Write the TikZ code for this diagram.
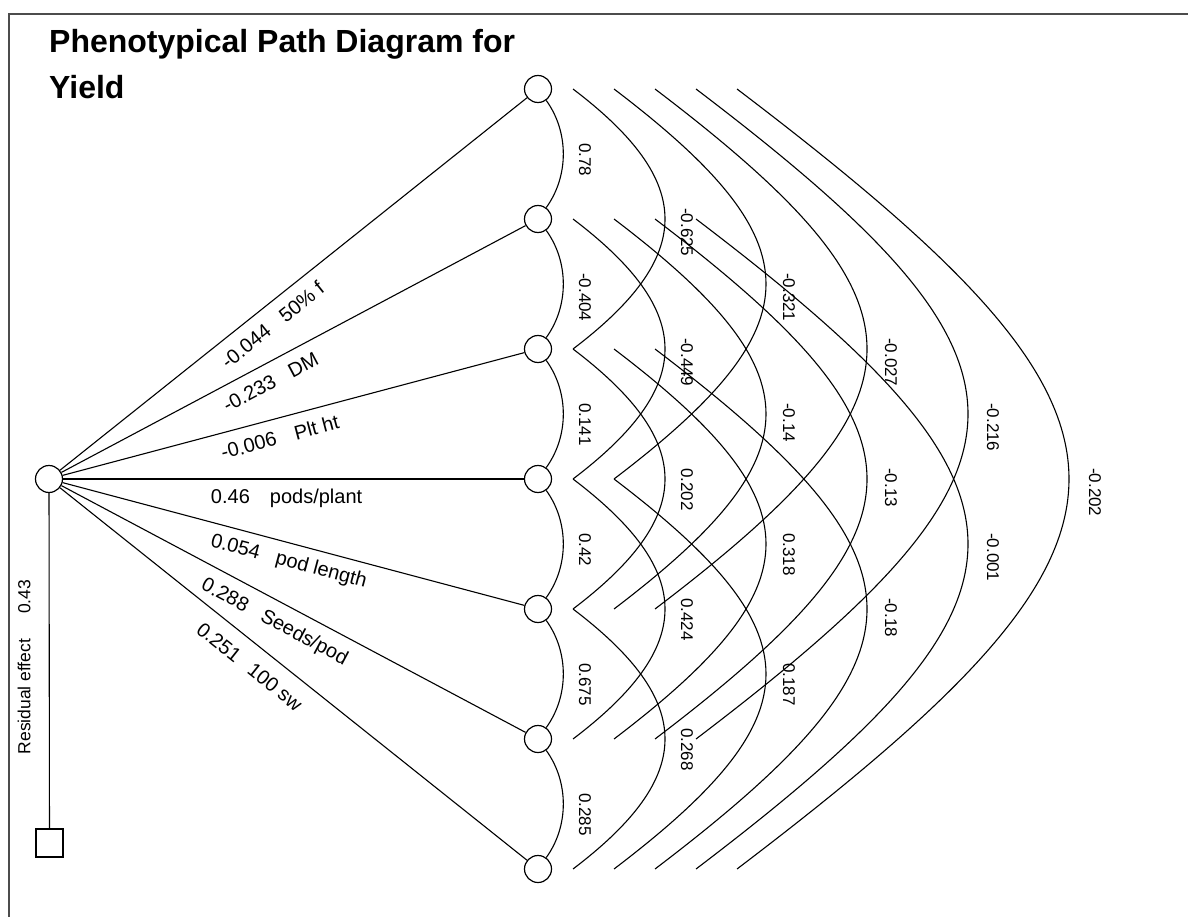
\documentclass[tikz,border=0pt]{standalone}
\usepackage{fontspec}
\setmainfont{Liberation Sans}
\usetikzlibrary{calc}
\tikzset{
    trait/.style={draw, circle, minimum size=27pt, inner sep=0pt, line width=1.2pt},
    residual/.style={draw, rectangle, minimum width=27pt, minimum height=28pt, inner sep=0pt, line width=1.5pt},
    link/.style={line width=1.1pt},
    frame/.style={line width=2pt, black!70},
    pathlbl/.style={sloped, below=#1, inner sep=0pt, font=\fontsize{20}{22}\selectfont},
    pathlbl/.default=11pt,
    corrlbl/.style={rotate=-90, anchor=west, inner sep=0pt, font=\fontsize{17}{19}\selectfont}
}
% correlation between trait #1 and trait #2, value #3
\newcommand{\pathcorr}[3] {
    \pgfmathtruncatemacro{\cgap}{#2-#1}
    \pgfmathsetmacro{\clx}{47+102*(\cgap-1)}
    \ifnum\cgap=1
        \draw[link] (r#1) .. controls ($(r#1)+(31,43)$) and ($(r#2)+(31,-43)$) .. (r#2);
    \else
        \pgfmathsetmacro{\cstart}{35+41*(\cgap-2)}
        \pgfmathsetmacro{\cbulge}{4/3*(92+60*(\cgap-2))}
        \pgfmathsetmacro{\cdrop}{0.76*\cbulge}
        \draw[link] ($(r#1)+(\cstart,0)$) .. controls ($(r#1)+(\cstart+\cbulge,\cdrop)$)
            and ($(r#2)+(\cstart+\cbulge,-\cdrop)$) .. ($(r#2)+(\cstart,0)$);
    \fi
    \node[corrlbl] (c#1#2) at ($(r#1)!0.5!(r#2)+(\clx,-11)$) {#3};
}
\begin{document}
\begin{tikzpicture}[x=1pt, y=-1pt]
    \useasboundingbox (0,0) rectangle (1188,917);
    \draw[frame] (9,917) -- (9,14) -- (1188,14);

    % Title
    \node[anchor=north west, align=left, inner sep=0pt, font=\bfseries\fontsize{32}{46}\selectfont] (title) at (49,29)
        {Phenotypical Path Diagram for\\Yield};

    % Yield and residual
    \node[trait] (yield) at (49,479) {};
    \node[residual] (res) at (49.5,843) {};
    \draw[link] (yield) -- (res);
    \node[rotate=90, inner sep=0pt, font=\fontsize{17.5}{20}\selectfont] (reslbl) at (24,667) {Residual effect\hspace{25pt}0.43};

    % Traits
    \node[trait] (r1) at (538,89) {};
    \node[trait] (r2) at (538,219) {};
    \node[trait] (r3) at (538,349) {};
    \node[trait] (r4) at (538,479) {};
    \node[trait] (r5) at (538,609) {};
    \node[trait] (r6) at (538,739) {};
    \node[trait] (r7) at (538,869) {};

    % Direct effects
    \draw[link] (yield) -- node[pathlbl, pos=0.43] {-0.044\hspace{17pt}50\% f} (r1);
    \draw[link] (yield) -- node[pathlbl, pos=0.432] {-0.233\hspace{17pt}DM} (r2);
    \draw[link] (yield) -- node[pathlbl, pos=0.46] {-0.006\hspace{19pt}Plt ht} (r3);
    \draw[link] (yield) -- node[pathlbl=9pt, pos=0.485] {0.46\hspace{20pt}pods/plant} (r4);
    \draw[link] (yield) -- node[pathlbl=9pt, pos=0.5] {0.054\hspace{17pt}pod length} (r5);
    \draw[link] (yield) -- node[pathlbl, pos=0.48] {0.288\hspace{17pt}Seeds/pod} (r6);
    \draw[link] (yield) -- node[pathlbl=14pt, pos=0.435] {0.251\hspace{15pt}100 sw} (r7);

    % Correlations
    \pathcorr{1}{2}{0.78}
    \pathcorr{2}{3}{-0.404}
    \pathcorr{3}{4}{0.141}
    \pathcorr{4}{5}{0.42}
    \pathcorr{5}{6}{0.675}
    \pathcorr{6}{7}{0.285}
    \pathcorr{1}{3}{-0.625}
    \pathcorr{2}{4}{-0.449}
    \pathcorr{3}{5}{0.202}
    \pathcorr{4}{6}{0.424}
    \pathcorr{5}{7}{0.268}
    \pathcorr{1}{4}{-0.321}
    \pathcorr{2}{5}{-0.14}
    \pathcorr{3}{6}{0.318}
    \pathcorr{4}{7}{0.187}
    \pathcorr{1}{5}{-0.027}
    \pathcorr{2}{6}{-0.13}
    \pathcorr{3}{7}{-0.18}
    \pathcorr{1}{6}{-0.216}
    \pathcorr{2}{7}{-0.001}
    \pathcorr{1}{7}{-0.202}
\end{tikzpicture}
\end{document}
